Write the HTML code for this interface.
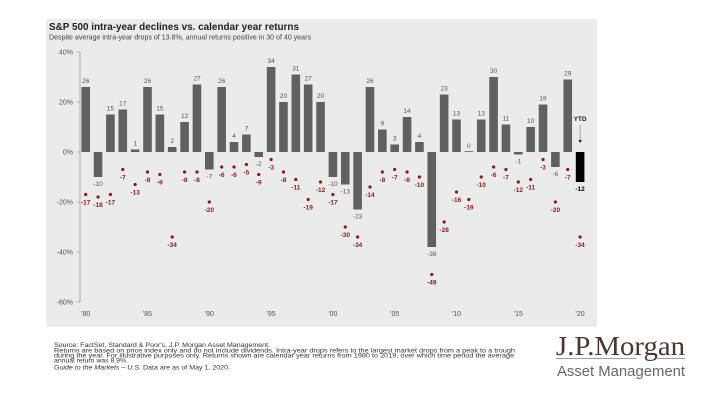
<!DOCTYPE html>
<html><head><meta charset="utf-8"><style>
body{margin:0;background:#fff;width:720px;height:405px;overflow:hidden;font-family:"Liberation Sans",sans-serif}
svg{display:block}
</style></head><body>
<svg width="720" height="405" viewBox="0 0 720 405">
<rect x="46" y="19" width="551" height="308" fill="#ebebeb"/>
<text x="49" y="30" font-size="10" font-weight="bold" fill="#222" textLength="250" lengthAdjust="spacingAndGlyphs">S&amp;P 500 intra-year declines vs. calendar year returns</text>
<text x="49" y="39.5" font-size="7.3" fill="#444" textLength="262" lengthAdjust="spacingAndGlyphs">Despite average intra-year drops of 13.8%, annual returns positive in 30 of 40 years</text>
<g id="yaxis"></g>
<g id="xaxis"></g>
<g id="bars"></g>
<g id="drops"></g>
<g font-size="6.4" fill="#333" lengthAdjust="spacingAndGlyphs">
<text x="54" y="347" textLength="216" lengthAdjust="spacingAndGlyphs">Source: FactSet, Standard &amp; Poor's, J.P. Morgan Asset Management.</text>
<text x="54" y="352.5" textLength="461" lengthAdjust="spacingAndGlyphs">Returns are based on price index only and do not include dividends. Intra-year drops refers to the largest market drops from a peak to a trough</text>
<text x="54" y="357.5" textLength="460" lengthAdjust="spacingAndGlyphs">during the year. For illustrative purposes only. Returns shown are calendar year returns from 1980 to 2019, over which time period the average</text>
<text x="54" y="362.5" textLength="74" lengthAdjust="spacingAndGlyphs">annual return was 8.9%.</text>
<text x="54" y="369.5" font-style="italic" textLength="176" lengthAdjust="spacingAndGlyphs">Guide to the Markets – U.S. <tspan font-style="normal">Data are as of May 1, 2020.</tspan></text>
</g>
<g>
<text x="556" y="355" font-family="Liberation Serif,serif" font-size="27" fill="#4a3630" textLength="129" lengthAdjust="spacingAndGlyphs">J.P.Morgan</text>
<line x1="556" y1="358.5" x2="636" y2="358.5" stroke="#8a7a74" stroke-width="0.7"/>
<line x1="656" y1="358.5" x2="685" y2="358.5" stroke="#8a7a74" stroke-width="0.7"/>
<text x="557" y="376" font-size="15" fill="#666" textLength="128" lengthAdjust="spacingAndGlyphs">Asset Management</text>
</g>
</svg>
<script>
const years=[1980,1981,1982,1983,1984,1985,1986,1987,1988,1989,1990,1991,1992,1993,1994,1995,1996,1997,1998,1999,2000,2001,2002,2003,2004,2005,2006,2007,2008,2009,2010,2011,2012,2013,2014,2015,2016,2017,2018,2019,2020];
const returns=[26,-10,15,17,1,26,15,2,12,27,-7,26,4,7,-2,34,20,31,27,20,-10,-13,-23,26,9,3,14,4,-38,23,13,0,13,30,11,-1,10,19,-6,29,-12];
const drops=[-17,-18,-17,-7,-13,-8,-9,-34,-8,-8,-20,-6,-6,-5,-9,-3,-8,-11,-19,-12,-17,-30,-34,-14,-8,-7,-8,-10,-49,-28,-16,-19,-10,-6,-7,-12,-11,-3,-20,-7,-34];
const yTicks=[40,20,0,-20,-40,-60];
const yTickLabels=["40%","20%","0%","-20%","-40%","-60%"];
const xTickLabels=["'80","'85","'90","'95","'00","'05","'10","'15","'20"];
const NS="http://www.w3.org/2000/svg";
const x0=85.7,step=12.36;
function xs(i){return x0+step*i;}
function ys(v){return 152-2.5*v;}
function mk(tag,attrs,parent,txt){const e=document.createElementNS(NS,tag);for(const k in attrs)e.setAttribute(k,attrs[k]);if(txt!==undefined)e.textContent=txt;parent.appendChild(e);return e;}
const ya=document.getElementById('yaxis'),xa=document.getElementById('xaxis'),bg=document.getElementById('bars'),dg=document.getElementById('drops');
mk('line',{x1:80,y1:ys(40),x2:80,y2:ys(-60),stroke:'#999','stroke-width':0.7},ya);
yTicks.forEach((t,i)=>{
 mk('line',{x1:77,y1:ys(t),x2:80,y2:ys(t),stroke:'#999','stroke-width':0.7},ya);
 const l=mk('text',{x:73,y:ys(t)+2.5,'font-size':7,fill:'#555','text-anchor':'end'},ya,yTickLabels[i]);
 
 
});
xTickLabels.forEach((t,i)=>{
 const l=mk('text',{x:xs(i*5),y:316,'font-size':7,fill:'#555','text-anchor':'middle'},xa,t);
 
 
});
returns.forEach((v,i)=>{
 const last=i===returns.length-1;
 const y1=ys(Math.max(v,0)),h=Math.max(Math.abs(ys(v)-ys(0)),0.8);
 const r=mk('rect',{x:xs(i)-4.3,y:v>=0?y1-(v===0?0.8:0):ys(0),width:8.6,height:h,fill:last?'#000':'#606060'},bg);
 
 
 const ly=v>=0?ys(v)-4:ys(v)+9;
 const t=mk('text',{x:xs(i),y:ly,'font-size':6.5,fill:last?'#000':'#555','font-weight':last?'bold':'normal','text-anchor':'middle'},bg,String(v));
 
 
});
drops.forEach((v,i)=>{
 const c=mk('circle',{cx:xs(i),cy:ys(v),r:1.6,fill:'#8b1a1a'},dg);
 
 
 const t=mk('text',{x:xs(i),y:ys(v)+10,'font-size':6.5,fill:'#8b1a1a','font-weight':'bold','text-anchor':'middle'},dg,String(v));
 
 
});
const li=returns.length-1;
const ytd=mk('text',{x:xs(li),y:121,'font-size':6.5,'font-weight':'bold',fill:'#222','text-anchor':'middle'},bg,'YTD');


const ar=mk('line',{x1:xs(li),y1:125,x2:xs(li),y2:140,stroke:'#777','stroke-width':0.6},bg);


const ah=mk('path',{d:`M${xs(li)-1.8} 140 L${xs(li)+1.8} 140 L${xs(li)} 143 Z`,fill:'#222'},bg);


</script>
</body></html>
